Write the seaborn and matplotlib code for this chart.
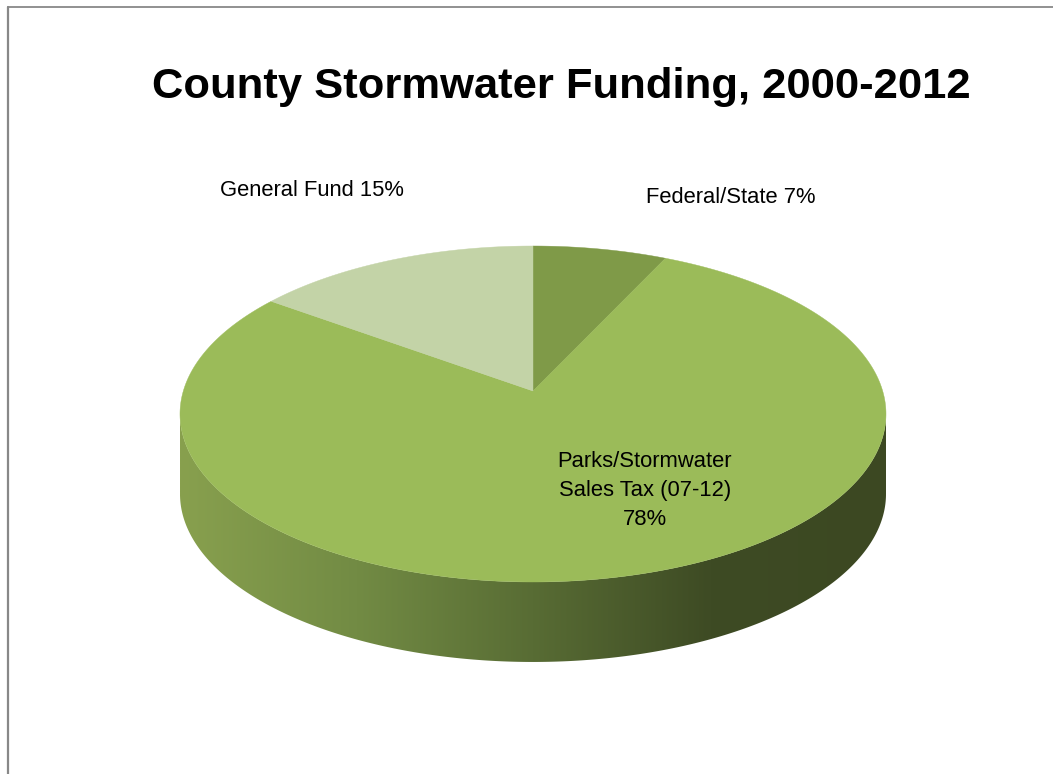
import matplotlib
matplotlib.use("Agg")
import matplotlib.pyplot as plt
import numpy as np
import seaborn as sns
from matplotlib.lines import Line2D
from matplotlib.patches import Polygon

# funding sources, clockwise from 12 o'clock
sources = ["Federal/State", "Parks/Stormwater\nSales Tax (07-12)", "General Fund"]
shares = [7, 78, 15]
label_sep = [" ", "\n", " "]
colors = ["#7f9a48", "#9bbb59", "#c3d3a7"]
side_colors = ["#88a04e", "#728b44", "#586c34", "#3e4b24", "#3c4822"]

sns.set_theme(style="white")
plt.rcParams["font.family"] = ["Liberation Sans", "DejaVu Sans"]

fig = plt.figure(figsize=(10.53, 7.74), dpi=100)
ax = fig.add_axes([0, 0, 1, 1])

wedges, _ = ax.pie(shares, colors=colors, startangle=90, counterclock=False,
                   wedgeprops=dict(linewidth=0))

# tilt the disc: far side squeezed, centre pushed back (circle stays an ellipse)
k = 0.137
a = np.sqrt(1 - k ** 2)


def tilt(xy):
    x, y = xy[:, 0], xy[:, 1]
    w = 1 + k * y
    return np.column_stack([a * x / w, (y + k) / w])


for w in wedges:
    th = np.radians(np.linspace(w.theta1, w.theta2, 400))
    cx, cy = w.center
    pts = np.column_stack([cx + w.r * np.cos(th), cy + w.r * np.sin(th)])
    pts = np.vstack([[cx, cy], pts])
    ax.add_patch(Polygon(tilt(pts), closed=True, facecolor=w.get_facecolor(),
                         edgecolor=w.get_facecolor(), lw=0.3, zorder=3))
    w.set_visible(False)

# the rim of the big slice, shaded left to right
depth = 0.476
t = np.linspace(np.pi, 2 * np.pi, 400)
upper = np.column_stack([np.cos(t), np.sin(t)])
lower = upper[::-1] - [0, depth]
side = Polygon(np.vstack([upper, lower]), closed=True, facecolor="none", edgecolor="none")
ax.add_patch(side)
cmap = sns.blend_palette(side_colors, as_cmap=True)
grad = np.linspace(0, 1, 256)[None, :]
img = ax.imshow(grad, cmap=cmap, extent=(-1, 1, -1 - depth, 0.01), aspect="auto",
                interpolation="bilinear", zorder=2)
img.set_clip_path(side)

# labels
label_pos = [(0.561, 1.286), (0.317, -0.458), (-0.626, 1.333)]
for name, sep, val, (lx, ly) in zip(sources, label_sep, shares, label_pos):
    ax.text(lx, ly, f"{name}{sep}{val}%", ha="center", va="center", fontsize=15.8,
            color="black", linespacing=1.5, zorder=5)

ax.set_aspect("auto")
ax.set_xlim(-1.5099, 1.4731)
ax.set_ylim(-2.1429, 2.4643)
ax.axis("off")

fig.text(561 / 1053, 1 - 98 / 774, "County Stormwater Funding, 2000-2012",
         ha="center", va="baseline", fontsize=31.3, fontweight="bold", color="black")

# frame lines on the left and top edges
fig.add_artist(Line2D([7.5 / 1053, 7.5 / 1053], [0, 1 - 6.5 / 774], color="#888888", lw=1.6))
fig.add_artist(Line2D([7.5 / 1053, 1], [1 - 6.5 / 774, 1 - 6.5 / 774], color="#888888", lw=1.3))

fig.savefig("out.png", dpi=100)
